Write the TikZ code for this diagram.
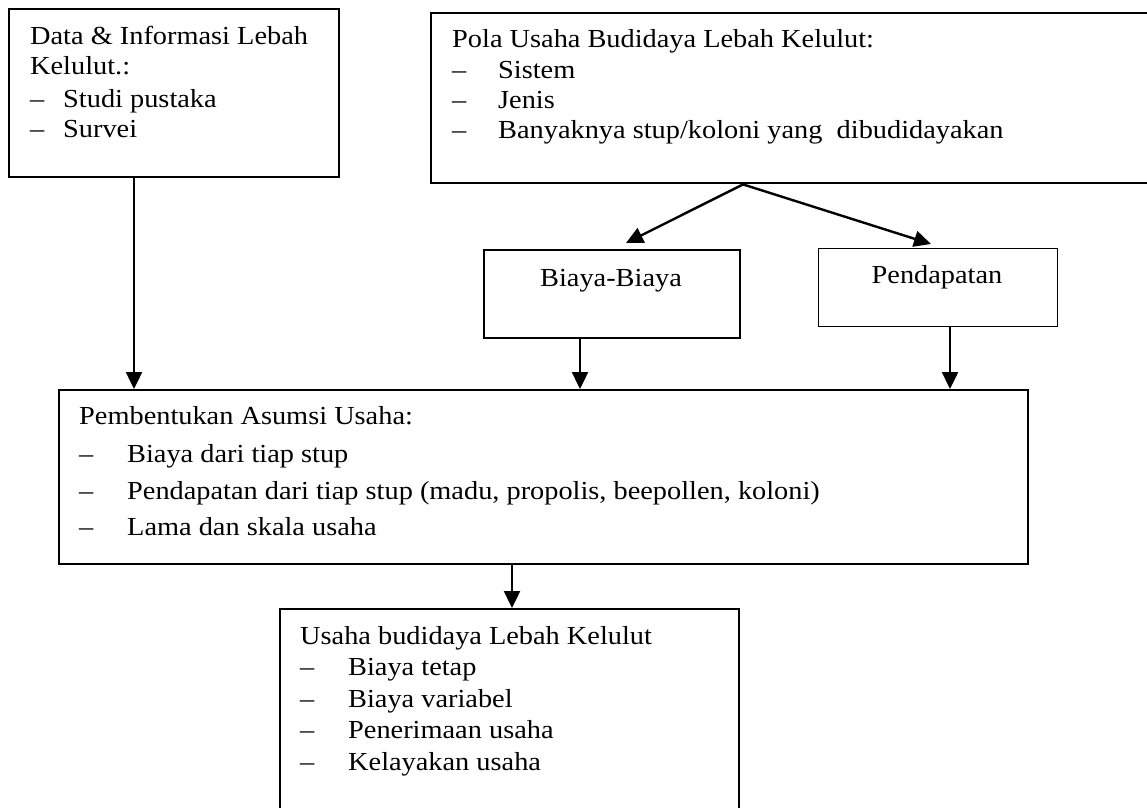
\documentclass[tikz,border=0pt]{standalone}
\usepackage{fontspec}
\setmainfont{Liberation Serif}[FakeStretch=1.09]
\usetikzlibrary{arrows.meta}
\begin{document}
\begin{tikzpicture}[x=1pt,y=-1pt,
  box/.style={draw, line width=2.4pt, anchor=north west, inner sep=0pt},
  txt/.style={inner sep=0pt, anchor=base west, font=\fontsize{26}{30}\selectfont},
  ctxt/.style={txt, anchor=base},
  arr/.style={line width=2.4pt, -{Triangle[length=17pt,width=16pt]}}]
\clip (0,0) rectangle (1147,807);
\fill[white] (0,0) rectangle (1147,807);
% boxes
\node[box, minimum width=330pt, minimum height=168pt] (b1) at (8,8) {};
\node[box, minimum width=740pt, minimum height=170pt] (b2) at (430,12) {};
\node[box, line width=2pt, minimum width=256pt, minimum height=88pt] (bb) at (483,249) {};
\node[box, line width=1.4pt, minimum width=239pt, minimum height=78pt] (bp) at (818,248) {};
\node[box, minimum width=969pt, minimum height=174pt] (ba) at (58,389) {};
\node[box, line width=1.8pt, minimum width=459pt, minimum height=260pt] (bu) at (279,608) {};
% box 1 text
\node[txt] (t11) at (30,44) {Data \& Informasi Lebah};
\node[txt] (t12) at (30,74) {Kelulut.:};
\node[txt] (d13) at (30,107) {–};
\node[txt] (t13) at (63,107) {Studi pustaka};
\node[txt] (d14) at (30,137) {–};
\node[txt] (t14) at (63,137) {Survei};
% box 2 text
\node[txt] (t21) at (452,47) {Pola Usaha Budidaya Lebah Kelulut:};
\node[txt] (d22) at (452,78) {–};
\node[txt] (t22) at (498,78) {Sistem};
\node[txt] (d23) at (452,108) {–};
\node[txt] (t23) at (498,108) {Jenis};
\node[txt] (d24) at (452,138) {–};
\node[txt] (t24) at (498,138) {Banyaknya stup/koloni yang\ \ dibudidayakan};
% middle boxes
\node[ctxt] (tbb) at (611,286) {Biaya-Biaya};
\node[ctxt] (tbp) at (937,283) {Pendapatan};
% asumsi box
\node[txt] (ta1) at (79,424) {Pembentukan Asumsi Usaha:};
\node[txt] (da2) at (79,462) {–};
\node[txt] (ta2) at (127,462) {Biaya dari tiap stup};
\node[txt] (da3) at (79,499) {–};
\node[txt] (ta3) at (127,499) {Pendapatan dari tiap stup (madu, propolis, beepollen, koloni)};
\node[txt] (da4) at (79,535) {–};
\node[txt] (ta4) at (127,535) {Lama dan skala usaha};
% usaha box
\node[txt] (tu1) at (300,644) {Usaha budidaya Lebah Kelulut};
\node[txt] (du2) at (300,675) {–};
\node[txt] (tu2) at (348,675) {Biaya tetap};
\node[txt] (du3) at (300,707) {–};
\node[txt] (tu3) at (348,707) {Biaya variabel};
\node[txt] (du4) at (300,738) {–};
\node[txt] (tu4) at (348,738) {Penerimaan usaha};
\node[txt] (du5) at (300,770) {–};
\node[txt] (tu5) at (348,770) {Kelayakan usaha};
% connectors
\coordinate (c1) at (134,0);
\coordinate (apex) at (743,0);
\coordinate (tl) at (626,243);
\coordinate (tr) at (931,244);
\coordinate (c2) at (580,0);
\coordinate (c3) at (950,0);
\coordinate (c4) at (512,0);
\draw[arr] (b1.south -| c1) -- (ba.north -| c1);
\draw[arr] (b2.south -| apex) -- (tl);
\draw[arr] (b2.south -| apex) -- (tr);
\draw[arr] (bb.south -| c2) -- (ba.north -| c2);
\draw[arr] (bp.south -| c3) -- (ba.north -| c3);
\draw[arr] (ba.south -| c4) -- (bu.north -| c4);
\end{tikzpicture}
\end{document}
